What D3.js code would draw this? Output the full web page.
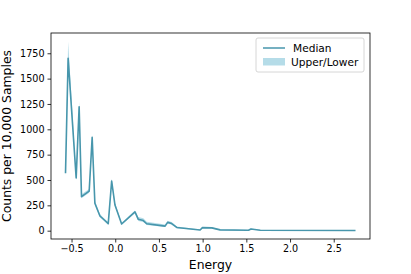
<!DOCTYPE html>
<html lang="en">
<head>
    <meta charset="UTF-8">
    <title>Counts per energy</title>
    <script src="https://d3js.org/d3.v7.min.js"></script>
    <style>
        body { margin: 0; background: #fff; }
        text { font-family: "DejaVu Sans", sans-serif; fill: #000; }
    </style>
</head>
<body>
    <svg class="chart" width="411" height="274"></svg>

    <script>
    // data
    const energy = [-0.569, -0.539, -0.447, -0.413, -0.386, -0.298, -0.264, -0.233, -0.175, -0.137, -0.08, -0.041, -0.003, 0.073, 0.226, 0.264, 0.321, 0.36, 0.57, 0.6, 0.646, 0.704, 0.971, 0.998, 1.105, 1.2, 1.525, 1.553, 1.66, 2.749]
    const median = [566, 1700, 520, 1223, 335, 390, 920, 270, 145, 115, 70, 490, 253, 66, 185, 112, 100, 68, 45, 82, 70, 32, 7, 30, 28, 8, 4, 17, 4, 2]
    const upper  = [610, 1864, 560, 1272, 360, 410, 945, 295, 165, 130, 82, 515, 275, 78, 200, 135, 122, 88, 60, 98, 85, 42, 12, 36, 35, 12, 7, 21, 7, 5]
    const lower  = [535, 1690, 495, 1205, 320, 375, 905, 255, 130, 102, 58, 475, 240, 58, 172, 96, 86, 55, 36, 70, 58, 24, 4, 25, 22, 5, 1, 13, 1, 0]

    const xTicks = [-0.5, 0.0, 0.5, 1.0, 1.5, 2.0, 2.5]
    const yTicks = [0, 250, 500, 750, 1000, 1250, 1500, 1750]

    const rows = energy.map((e, i) => ({ e: e, m: median[i], hi: upper[i], lo: lower[i] }))

    // plot box
    const boxL = 51, boxR = 370, boxT = 33, boxB = 239
    const lineColor = '#4796ac'
    const bandColor = '#add8e6'

    const svg = d3.select('.chart')

    const x = d3.scaleLinear().domain([-0.735, 2.915]).range([boxL, boxR])
    const y = d3.scaleLinear().domain([-82, 1950]).range([boxB, boxT])

    // band + median
    const area = d3.area()
        .x(d => x(d.e))
        .y0(d => y(d.lo))
        .y1(d => y(d.hi))

    const line = d3.line()
        .x(d => x(d.e))
        .y(d => y(d.m))

    svg.append('path')
        .attr('d', area(rows))
        .attr('fill', bandColor)
        .attr('fill-opacity', 0.9)

    svg.append('path')
        .attr('d', line(rows))
        .attr('fill', 'none')
        .attr('stroke', lineColor)
        .attr('stroke-width', 1.6)
        .attr('stroke-linejoin', 'round')

    // axes
    const xAxis = d3.axisBottom(x).tickValues(xTicks).tickFormat(d3.format('.1f')).tickSizeInner(3.5).tickSizeOuter(0).tickPadding(3)
    const yAxis = d3.axisLeft(y).tickValues(yTicks).tickFormat(d3.format('d')).tickSizeInner(3.5).tickSizeOuter(0).tickPadding(3)

    const gx = svg.append('g').attr('transform', `translate(0,${boxB})`).call(xAxis)
    const gy = svg.append('g').attr('transform', `translate(${boxL},0)`).call(yAxis)

    gx.select('.domain').remove()
    gy.select('.domain').remove()
    svg.selectAll('.tick text').attr('font-size', 9.6).attr('font-family', 'DejaVu Sans')
    svg.selectAll('.tick line').attr('stroke', '#000').attr('stroke-width', 0.8)

    // frame
    svg.append('rect')
        .attr('x', boxL).attr('y', boxT)
        .attr('width', boxR - boxL).attr('height', boxB - boxT)
        .attr('fill', 'none')
        .attr('stroke', '#000')
        .attr('stroke-width', 0.8)

    // labels
    svg.append('text')
        .attr('x', (boxL + boxR) / 2).attr('y', 269)
        .attr('text-anchor', 'middle')
        .attr('font-size', 12.4)
        .text('Energy')

    svg.append('text')
        .attr('transform', `translate(11,${(boxT + boxB) / 2}) rotate(-90)`)
        .attr('text-anchor', 'middle')
        .attr('font-size', 12.4)
        .text('Counts per 10,000 Samples')

    // legend
    const lg = svg.append('g').attr('transform', 'translate(256,38)')
    lg.append('rect')
        .attr('width', 108).attr('height', 34)
        .attr('rx', 2)
        .attr('fill', '#fff').attr('fill-opacity', 0.8)
        .attr('stroke', '#ccc').attr('stroke-width', 0.8)
    lg.append('line')
        .attr('x1', 7).attr('x2', 29).attr('y1', 10).attr('y2', 10)
        .attr('stroke', lineColor).attr('stroke-width', 1.5)
    lg.append('rect')
        .attr('x', 7).attr('y', 20).attr('width', 22).attr('height', 7.5)
        .attr('fill', bandColor).attr('fill-opacity', 0.9)
    lg.append('text').attr('x', 37).attr('y', 14).attr('font-size', 10.6).text('Median')
    lg.append('text').attr('x', 35).attr('y', 28).attr('font-size', 10.6).text('Upper/Lower')
    </script>
</body>
</html>
